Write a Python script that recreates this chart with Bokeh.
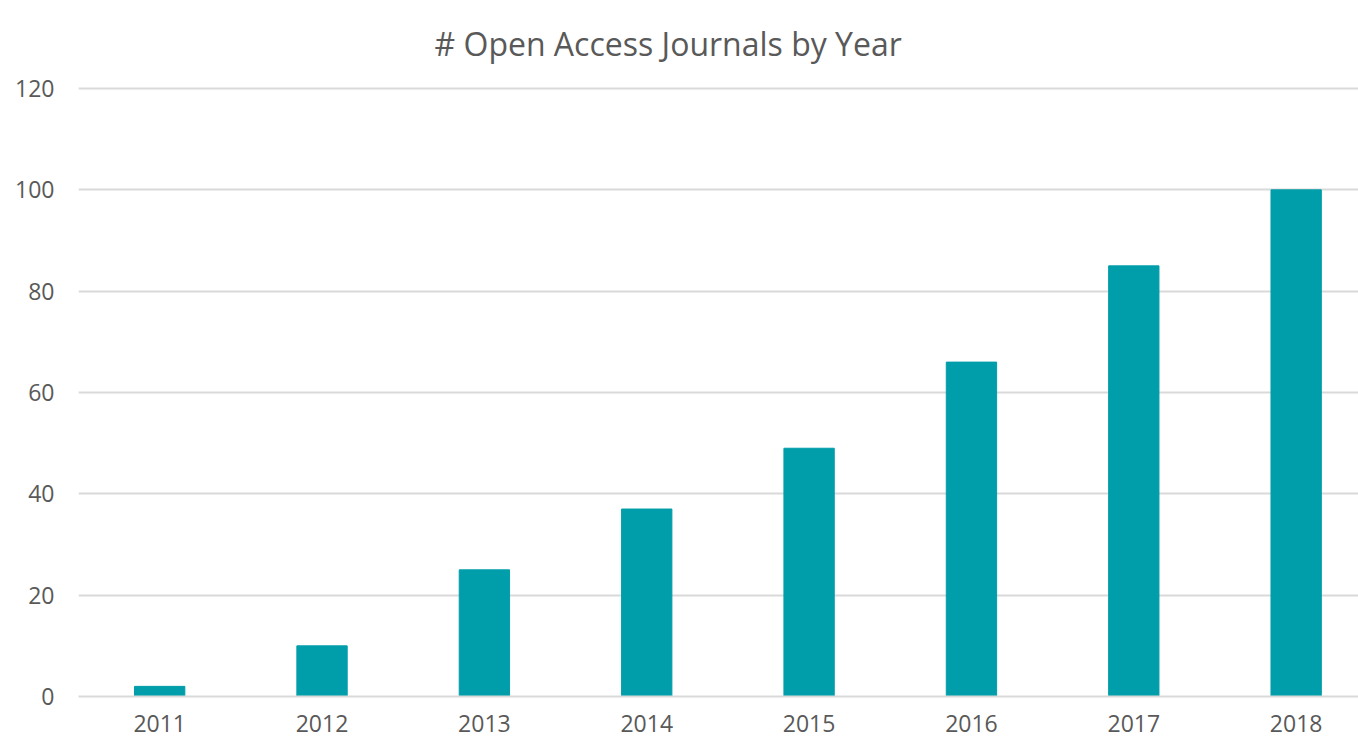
from bokeh.plotting import figure
from bokeh.models import Range1d, FixedTicker
from bokeh.embed import file_html
from bokeh.resources import INLINE

years = [2011, 2012, 2013, 2014, 2015, 2016, 2017, 2018]
journals = [2, 10, 25, 37, 49, 66, 85, 100]
y_ticks = [0, 20, 40, 60, 80, 100, 120]
title_text = "# Open Access Journals by Year"

TEXT = "#595959"
GRID = "#d9d9d9"
BAR = "#009EAA"
FONT = "Open Sans"

p = figure(width=1358, height=738, output_backend="svg", toolbar_location=None,
           x_range=Range1d(2010.5, 2018.384), y_range=Range1d(0, 120.4),
           min_border_left=78, min_border_right=0, min_border_top=86,
           min_border_bottom=42)

p.vbar(x=years, top=journals, width=0.31, color=BAR)

p.title.text = title_text
p.title.align = "left"
p.title.offset = 356
p.title.standoff = 40
p.title.vertical_align = "top"
p.title.text_font = FONT
p.title.text_font_style = "normal"
p.title.text_font_size = "32px"
p.title.text_color = TEXT

p.outline_line_color = None
p.xgrid.grid_line_color = None
p.ygrid.grid_line_color = GRID
p.ygrid.grid_line_width = 2
p.ygrid.ticker = FixedTicker(ticks=y_ticks)

p.yaxis.ticker = FixedTicker(ticks=y_ticks)
p.yaxis.axis_line_color = None
p.yaxis.major_tick_line_color = None
p.yaxis.minor_tick_line_color = None
p.yaxis.major_label_standoff = 18
p.yaxis.major_label_text_font = FONT
p.yaxis.major_label_text_font_size = "23px"
p.yaxis.major_label_text_color = TEXT

p.xaxis.ticker = FixedTicker(ticks=years)
p.xaxis.axis_line_color = GRID
p.xaxis.axis_line_width = 2
p.xaxis.major_tick_line_color = None
p.xaxis.minor_tick_line_color = None
p.xaxis.major_label_standoff = 12
p.xaxis.major_label_text_font = FONT
p.xaxis.major_label_text_font_size = "23px"
p.xaxis.major_label_text_color = TEXT

open("out.html", "w").write(file_html(p, INLINE))
